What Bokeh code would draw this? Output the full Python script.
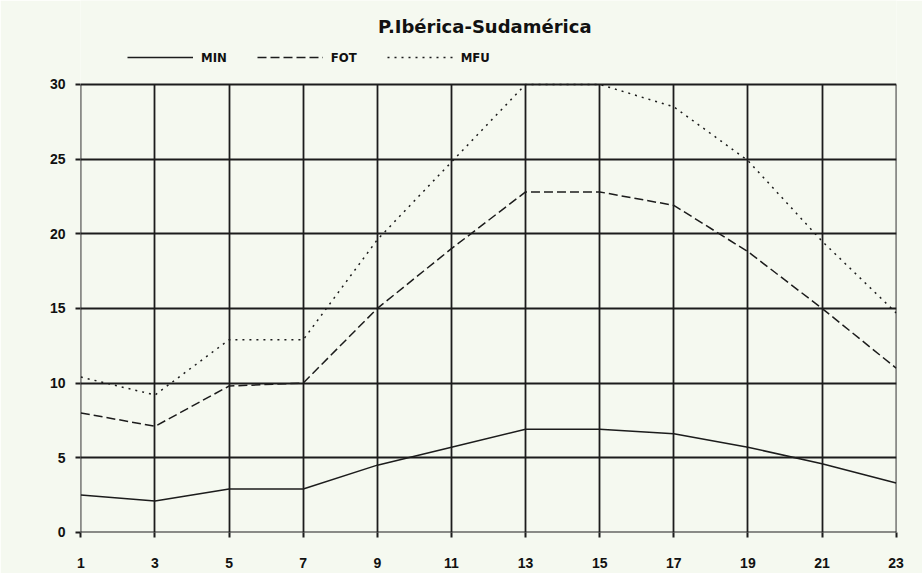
from bokeh.plotting import figure
from bokeh.models import Range1d, FixedTicker, Legend, LegendItem, Label
from bokeh.embed import file_html
from bokeh.resources import INLINE

title_text = "P.Ibérica-Sudamérica"
hours = [1, 3, 5, 7, 9, 11, 13, 15, 17, 19, 21, 23]
y_ticks = [0, 5, 10, 15, 20, 25, 30]
series_names = ["MIN", "FOT", "MFU"]
MIN = [2.5, 2.1, 2.9, 2.9, 4.5, 5.7, 6.9, 6.9, 6.6, 5.7, 4.6, 3.3]
FOT = [8.0, 7.1, 9.8, 10.0, 15.0, 19.0, 22.8, 22.8, 21.9, 18.8, 15.0, 11.0]
MFU = [10.4, 9.2, 12.9, 12.9, 19.6, 24.8, 30.0, 30.0, 28.5, 24.9, 19.5, 14.7]

paper = "#f5f9f0"
ink = "#1c1c1c"

# frame spans the title/legend area too, so those are not clipped
p = figure(width=922, height=573, output_backend="svg", toolbar_location=None,
           x_range=Range1d(0.99, 23.01), y_range=Range1d(-0.01, 35.62),
           min_border_left=80, min_border_right=26, min_border_top=0, min_border_bottom=41)
p.background_fill_color = paper
p.border_fill_color = paper
p.outline_line_color = None

for ax, ticks in ((p.xaxis, hours), (p.yaxis, y_ticks)):
    ax.ticker = FixedTicker(ticks=ticks)
    ax.axis_line_color = None
    ax.major_tick_line_color = ink
    ax.major_tick_line_width = 2
    ax.major_tick_out = 5
    ax.major_tick_in = 0
    ax.minor_tick_line_color = None
    ax.major_label_text_font = "Liberation Sans"
    ax.major_label_text_font_style = "bold"
    ax.major_label_text_font_size = "14px"
    ax.major_label_text_color = "#111111"
p.yaxis.bounds = (0, 30)
p.xaxis.major_label_standoff = 20
p.yaxis.major_label_standoff = 10

p.xgrid.ticker = FixedTicker(ticks=hours)
p.ygrid.ticker = FixedTicker(ticks=y_ticks)
p.xgrid.cross_bounds = (0, 30)
for g in (p.xgrid, p.ygrid):
    g.grid_line_color = ink
    g.grid_line_width = 1.8
    g.grid_line_alpha = 1.0

r_min = p.line(hours, MIN, line_color=ink, line_width=1.5)
r_fot = p.line(hours, FOT, line_color=ink, line_width=1.5, line_dash="9 4")
r_mfu = p.line(hours, MFU, line_color=ink, line_width=1.5, line_dash="2 5")

legend = Legend(items=[LegendItem(label=series_names[0], renderers=[r_min]),
                       LegendItem(label=series_names[1], renderers=[r_fot]),
                       LegendItem(label=series_names[2], renderers=[r_mfu])],
                orientation="horizontal", location=(47, 465),
                padding=0, margin=0, spacing=30, label_standoff=8,
                glyph_width=66, glyph_height=20,
                border_line_color=None, background_fill_alpha=0,
                label_text_font="DejaVu Sans Condensed", label_text_font_style="bold",
                label_text_font_size="13px", label_text_color="#111111")
p.add_layout(legend, "center")

p.add_layout(Label(x=11.9, y=33.85, text=title_text, text_align="center",
                   text_baseline="middle", text_font="DejaVu Sans",
                   text_font_style="bold", text_font_size="18px", text_color="#111111"))

open("out.html", "w").write(file_html(p, INLINE))
